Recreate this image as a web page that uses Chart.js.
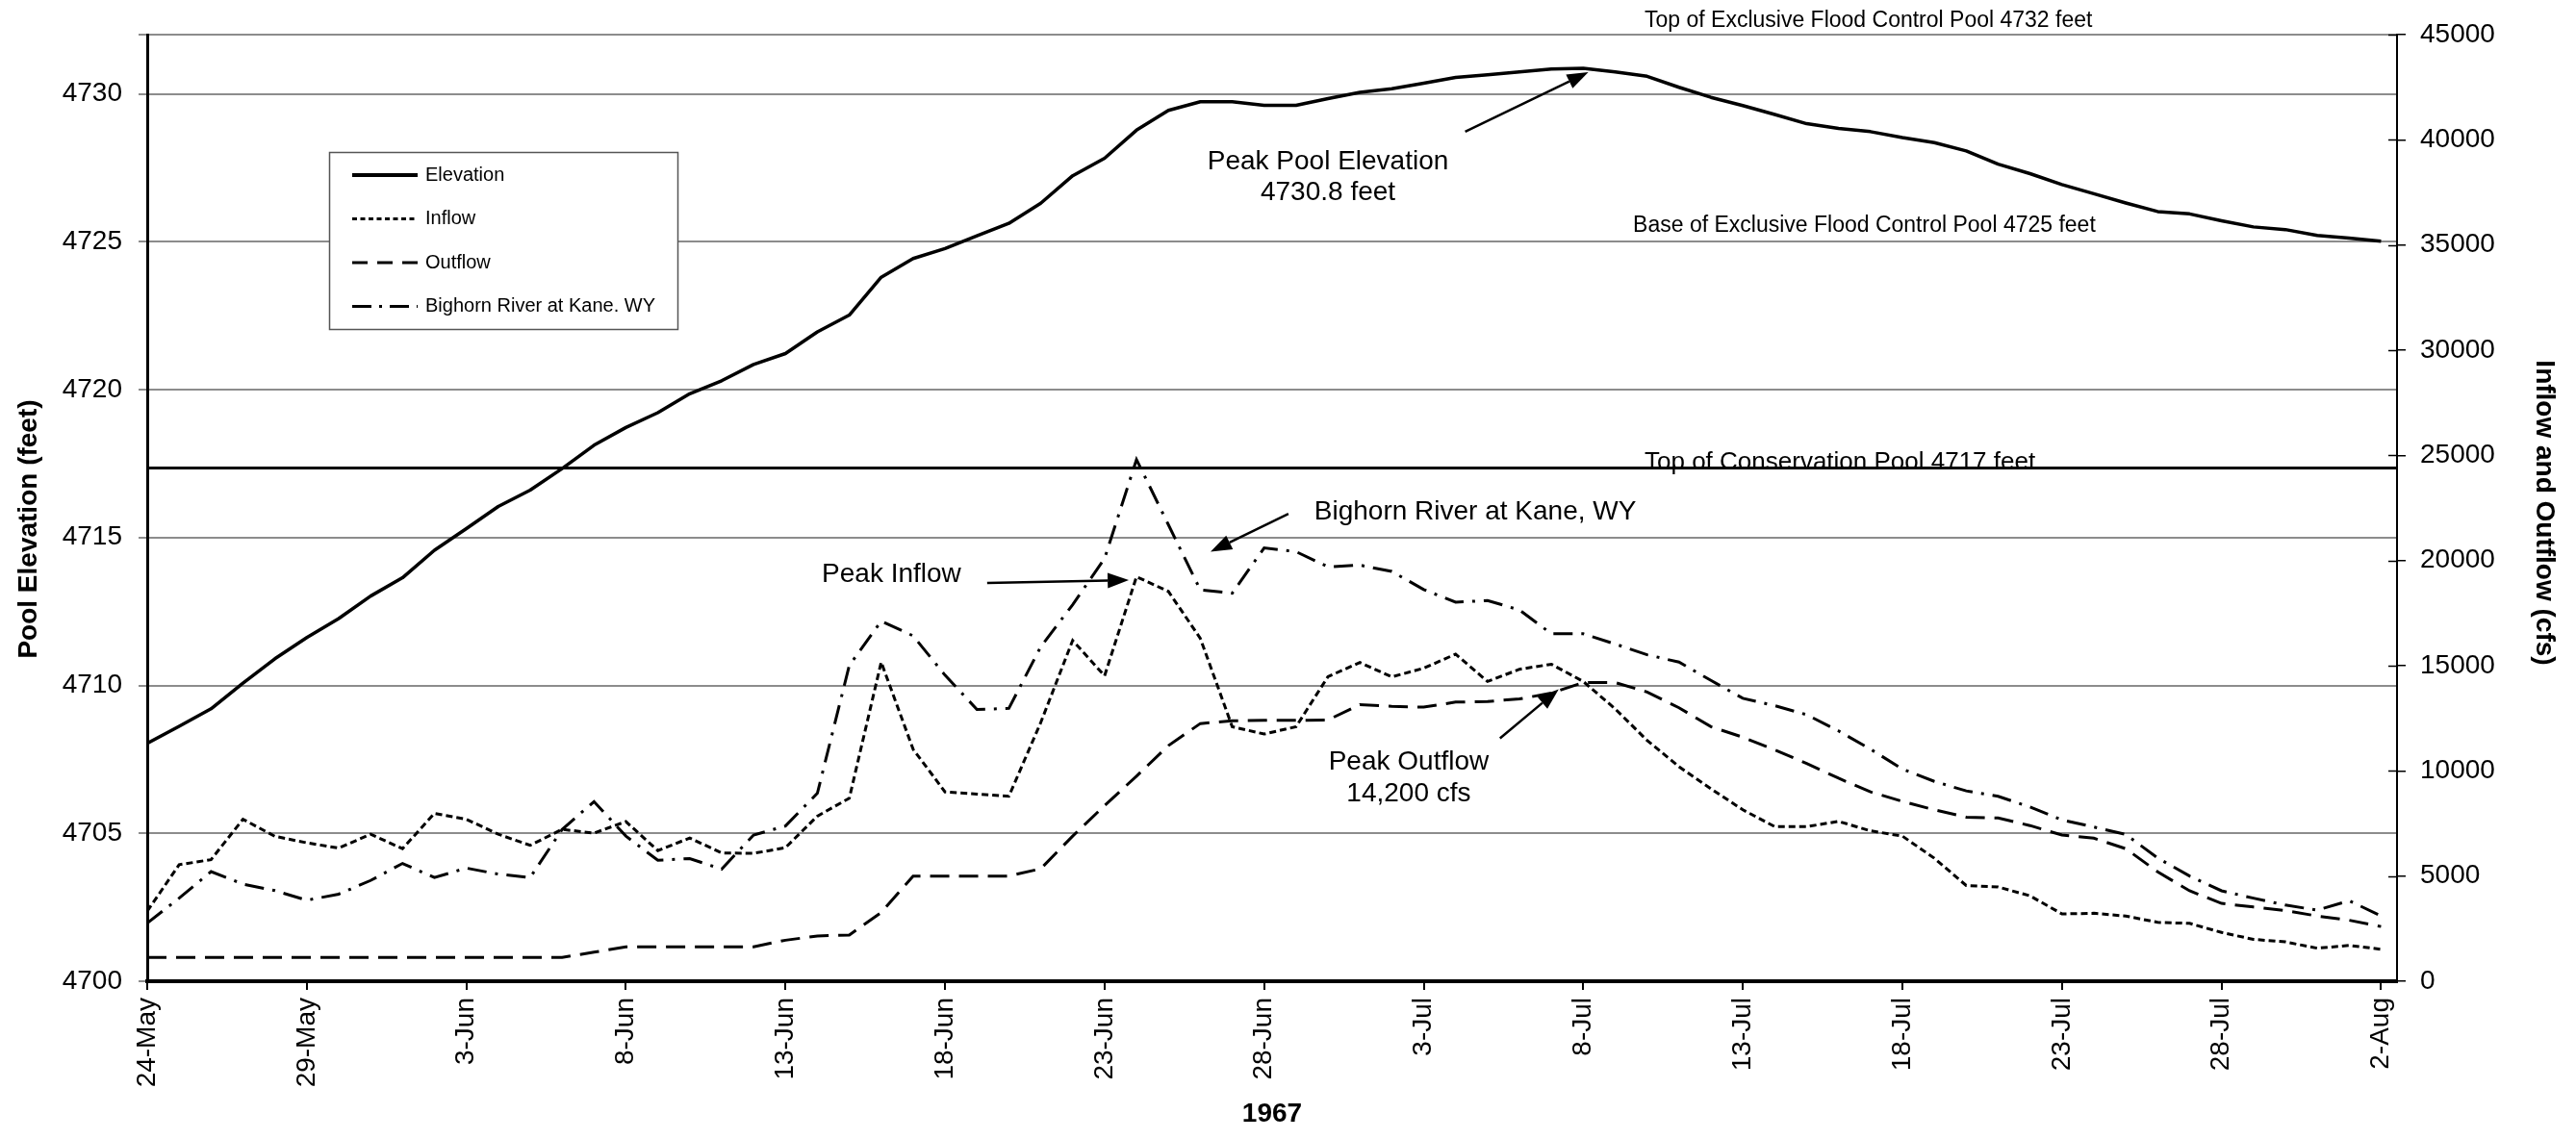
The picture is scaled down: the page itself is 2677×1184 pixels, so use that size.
<!DOCTYPE html>
<html>
<head>
<meta charset="utf-8">
<script src="https://cdn.jsdelivr.net/npm/chart.js@4.4.1/dist/chart.umd.min.js"></script>
<style>
  body { margin: 0; background: #fff; }
  canvas { display: block; }
</style>
</head>
<body>
<canvas id="chart" width="2677" height="1184"></canvas>
<script>
// x tick labels, one every 5 days starting 24-May-1967 (day 0)
const tickLabels = ['24-May', '29-May', '3-Jun', '8-Jun', '13-Jun', '18-Jun', '23-Jun', '28-Jun',
  '3-Jul', '8-Jul', '13-Jul', '18-Jul', '23-Jul', '28-Jul', '2-Aug']

// daily values, 24-May .. 2-Aug (71 days)
const elevation = [4708.04, 4708.62, 4709.21, 4710.08, 4710.9, 4711.62, 4712.26, 4713.02, 4713.64, 4714.57,
  4715.3, 4716.05, 4716.6, 4717.33, 4718.12, 4718.72, 4719.22, 4719.86, 4720.3, 4720.85,
  4721.22, 4721.95, 4722.52, 4723.8, 4724.43, 4724.77, 4725.2, 4725.62, 4726.3, 4727.23,
  4727.82, 4728.77, 4729.44, 4729.73, 4729.73, 4729.61, 4729.61, 4729.84, 4730.05, 4730.17,
  4730.36, 4730.55, 4730.64, 4730.74, 4730.84, 4730.86, 4730.74, 4730.59, 4730.22, 4729.88,
  4729.6, 4729.3, 4728.99, 4728.83, 4728.72, 4728.52, 4728.35, 4728.07, 4727.62, 4727.3,
  4726.93, 4726.62, 4726.31, 4726.02, 4725.94, 4725.71, 4725.5, 4725.41, 4725.21, 4725.12, 4725.02]

const inflow = [3330, 5540, 5780, 7700, 6890, 6580, 6330, 6990, 6300, 7980,
  7700, 6990, 6460, 7220, 7040, 7590, 6210, 6810, 6100, 6080,
  6350, 7850, 8700, 15170, 11030, 9000, 8900, 8790, 12300, 16200,
  14520, 19230, 18530, 16300, 12100, 11750, 12100, 14480, 15150, 14470,
  14880, 15550, 14250, 14830, 15070, 14250, 12950, 11450, 10200, 9150,
  8150, 7350, 7350, 7600, 7150, 6900, 5850, 4550, 4480, 4060,
  3200, 3230, 3100, 2800, 2750, 2320, 1990, 1870, 1570, 1700, 1520]

const outflow = [1130, 1130, 1130, 1130, 1130, 1130, 1130, 1130, 1130, 1130,
  1130, 1130, 1130, 1130, 1380, 1630, 1630, 1630, 1630, 1640,
  1950, 2150, 2200, 3270, 5000, 5000, 5000, 5000, 5350, 6900,
  8350, 9750, 11200, 12250, 12380, 12400, 12400, 12420, 13150, 13070,
  13030, 13270, 13300, 13420, 13700, 14200, 14200, 13750, 13000, 12100,
  11600, 11000, 10350, 9650, 9000, 8550, 8150, 7800, 7760, 7400,
  6950, 6800, 6300, 5200, 4300, 3700, 3530, 3360, 3100, 2900, 2600]

const bighorn = [2760, 3950, 5210, 4620, 4310, 3850, 4140, 4790, 5600, 4930,
  5380, 5090, 4930, 7210, 8540, 6900, 5750, 5830, 5330, 6950,
  7380, 8940, 15010, 17120, 16420, 14550, 12920, 12970, 15900, 17900,
  20100, 24800, 21700, 18600, 18450, 20600, 20420, 19700, 19780, 19480,
  18620, 18020, 18100, 17650, 16520, 16520, 16030, 15520, 15170, 14300,
  13450, 13100, 12670, 11900, 11030, 10090, 9500, 9050, 8790, 8280,
  7670, 7330, 6980, 5860, 5000, 4300, 3950, 3620, 3380, 3830, 3100]

const conservationTop = 4717.35
const lastDay = 70.5

const toPoints = arr => arr.map((v, i) => ({ x: i, y: v }))

const dashInflow = [7, 4]
const dashOutflow = [20, 10]
const dashBighorn = [20, 9, 3, 9]

// annotations in data units: day on x, feet (y) or cfs (y1)
const notes = [
  { text: 'Top of Exclusive Flood Control Pool 4732 feet', x: 46.92, y: 4732.26, axis: 'y', size: 23, align: 'left' },
  { text: 'Base of Exclusive Flood Control Pool 4725 feet', x: 46.56, y: 4725.33, axis: 'y', size: 23, align: 'left' },
  { text: 'Top of Conservation Pool 4717 feet', x: 46.92, y: 4717.3, axis: 'y', size: 26, align: 'left' },
  { text: 'Peak Pool Elevation', x: 37.0, y: 4727.45, axis: 'y', size: 28, align: 'center' },
  { text: '4730.8 feet', x: 37.0, y: 4726.4, axis: 'y', size: 28, align: 'center' },
  { text: 'Bighorn River at Kane, WY', x: 36.57, y: 21950, axis: 'y1', size: 28, align: 'left' },
  { text: 'Peak Inflow', x: 21.14, y: 18980, axis: 'y1', size: 28, align: 'left' },
  { text: 'Peak Outflow', x: 39.53, y: 10060, axis: 'y1', size: 28, align: 'center' },
  { text: '14,200 cfs', x: 39.53, y: 8550, axis: 'y1', size: 28, align: 'center' }
]

const arrows = [
  { axis: 'y', from: [41.3, 4728.72], to: [45.16, 4730.73] },
  { axis: 'y1', from: [35.76, 22225], to: [33.32, 20420] },
  { axis: 'y1', from: [26.32, 18930], to: [30.76, 19070] },
  { axis: 'y1', from: [42.39, 11550], to: [44.23, 13880] }
]

const legendItems = [
  { label: 'Elevation', dash: [], width: 4 },
  { label: 'Inflow', dash: [5, 3.5], width: 3 },
  { label: 'Outflow', dash: [16, 10], width: 3 },
  { label: 'Bighorn River at Kane. WY', dash: [20, 8, 3, 8], width: 3 }
]

const FONT = "'Liberation Sans', Arial, sans-serif"

const overlay = {
  id: 'overlay',
  afterDraw(chart) {
    const { ctx, chartArea: a, scales } = chart
    const x = scales.x
    ctx.save()
    ctx.fillStyle = '#000'
    ctx.strokeStyle = '#000'

    // inner half of the right axis ticks
    ctx.lineWidth = 1.5
    scales.y1.ticks.forEach(t => {
      const py = Math.round(scales.y1.getPixelForValue(t.value)) + 0.5
      ctx.beginPath()
      ctx.moveTo(a.right - 9, py)
      ctx.lineTo(a.right, py)
      ctx.stroke()
    })

    // notes
    notes.forEach(n => {
      ctx.font = n.size + 'px ' + FONT
      ctx.textAlign = n.align
      ctx.textBaseline = 'alphabetic'
      ctx.fillText(n.text, x.getPixelForValue(n.x), scales[n.axis].getPixelForValue(n.y))
    })

    // arrows
    arrows.forEach(ar => {
      const s = scales[ar.axis]
      const x0 = x.getPixelForValue(ar.from[0]), y0 = s.getPixelForValue(ar.from[1])
      const x1 = x.getPixelForValue(ar.to[0]), y1 = s.getPixelForValue(ar.to[1])
      const ang = Math.atan2(y1 - y0, x1 - x0)
      const len = 22, half = 8
      const bx = x1 - len * Math.cos(ang), by = y1 - len * Math.sin(ang)
      ctx.lineWidth = 2.5
      ctx.setLineDash([])
      ctx.beginPath()
      ctx.moveTo(x0, y0)
      ctx.lineTo(bx, by)
      ctx.stroke()
      ctx.beginPath()
      ctx.moveTo(x1, y1)
      ctx.lineTo(bx + half * Math.sin(ang), by - half * Math.cos(ang))
      ctx.lineTo(bx - half * Math.sin(ang), by + half * Math.cos(ang))
      ctx.closePath()
      ctx.fill()
    })

    // legend box
    const lx = a.left + 189, ly = a.top + 122, lw = 362, lh = 184
    ctx.fillStyle = '#fff'
    ctx.fillRect(lx, ly, lw, lh)
    ctx.strokeStyle = '#555'
    ctx.lineWidth = 1.5
    ctx.strokeRect(lx + 0.5, ly + 0.5, lw, lh)
    ctx.fillStyle = '#000'
    ctx.strokeStyle = '#000'
    ctx.font = '20px ' + FONT
    ctx.textAlign = 'left'
    ctx.textBaseline = 'middle'
    legendItems.forEach((it, i) => {
      const ry = ly + 24 + i * 45.5
      ctx.lineWidth = it.width
      ctx.setLineDash(it.dash)
      ctx.beginPath()
      ctx.moveTo(lx + 24, ry)
      ctx.lineTo(lx + 92, ry)
      ctx.stroke()
      ctx.setLineDash([])
      ctx.fillText(it.label, lx + 100, ry)
    })

    // axis titles
    ctx.font = 'bold 28px ' + FONT
    ctx.textAlign = 'center'
    ctx.textBaseline = 'middle'
    ctx.save()
    ctx.translate(30, 550)
    ctx.rotate(-Math.PI / 2)
    ctx.fillText('Pool Elevation (feet)', 0, 0)
    ctx.restore()
    ctx.save()
    ctx.translate(2644, 533)
    ctx.rotate(Math.PI / 2)
    ctx.fillText('Inflow and Outflow (cfs)', 0, 0)
    ctx.restore()
    ctx.textBaseline = 'alphabetic'
    ctx.fillText('1967', (a.left + a.right) / 2, 1166)

    ctx.restore()
  }
}

Chart.defaults.font.family = FONT
Chart.defaults.font.size = 28
Chart.defaults.color = '#000'

const chart = new Chart(document.getElementById('chart'), {
  type: 'line',
  data: {
    datasets: [
      { label: 'Elevation', data: toPoints(elevation), yAxisID: 'y', borderColor: '#000', borderWidth: 3.5, borderJoinStyle: 'round' },
      { label: 'Top of Conservation Pool', data: [{ x: 0, y: conservationTop }, { x: lastDay, y: conservationTop }], yAxisID: 'y', borderColor: '#000', borderWidth: 3 },
      { label: 'Inflow', data: toPoints(inflow), yAxisID: 'y1', borderColor: '#000', borderWidth: 3, borderDash: dashInflow },
      { label: 'Outflow', data: toPoints(outflow), yAxisID: 'y1', borderColor: '#000', borderWidth: 3, borderDash: dashOutflow },
      { label: 'Bighorn River at Kane. WY', data: toPoints(bighorn), yAxisID: 'y1', borderColor: '#000', borderWidth: 3, borderDash: dashBighorn }
    ]
  },
  options: {
    responsive: false,
    animation: false,
    devicePixelRatio: 1,
    layout: { padding: { top: 36, left: 0, right: 0, bottom: 0 } },
    elements: { point: { radius: 0 }, line: { tension: 0, fill: false } },
    plugins: { legend: { display: false }, tooltip: { enabled: false } },
    scales: {
      x: {
        type: 'linear',
        min: 0,
        max: lastDay,
        afterFit: s => { s.height = 164 },
        ticks: {
          stepSize: 5,
          includeBounds: false,
          autoSkip: false,
          minRotation: 90,
          maxRotation: 90,
          padding: 8,
          callback: v => tickLabels[v / 5] ?? ''
        },
        grid: { drawOnChartArea: false, tickLength: 9, color: '#000', lineWidth: 2 },
        border: { color: '#000', width: 4 }
      },
      y: {
        position: 'left',
        min: 4700,
        max: 4732,
        afterFit: s => { s.width = 153 },
        ticks: { stepSize: 5, padding: 17, callback: v => (v % 5 === 0 ? String(v) : '') },
        grid: { color: '#8c8c8c', lineWidth: 2, tickLength: 9 },
        border: { color: '#000', width: 3 }
      },
      y1: {
        position: 'right',
        min: 0,
        max: 45000,
        afterFit: s => { s.width = 186 },
        ticks: { stepSize: 5000, padding: 15, callback: v => String(v) },
        grid: { drawOnChartArea: false, tickLength: 9, color: '#000', lineWidth: 1.5 },
        border: { color: '#000', width: 2 }
      }
    }
  },
  plugins: [overlay]
})
</script>
</body>
</html>
